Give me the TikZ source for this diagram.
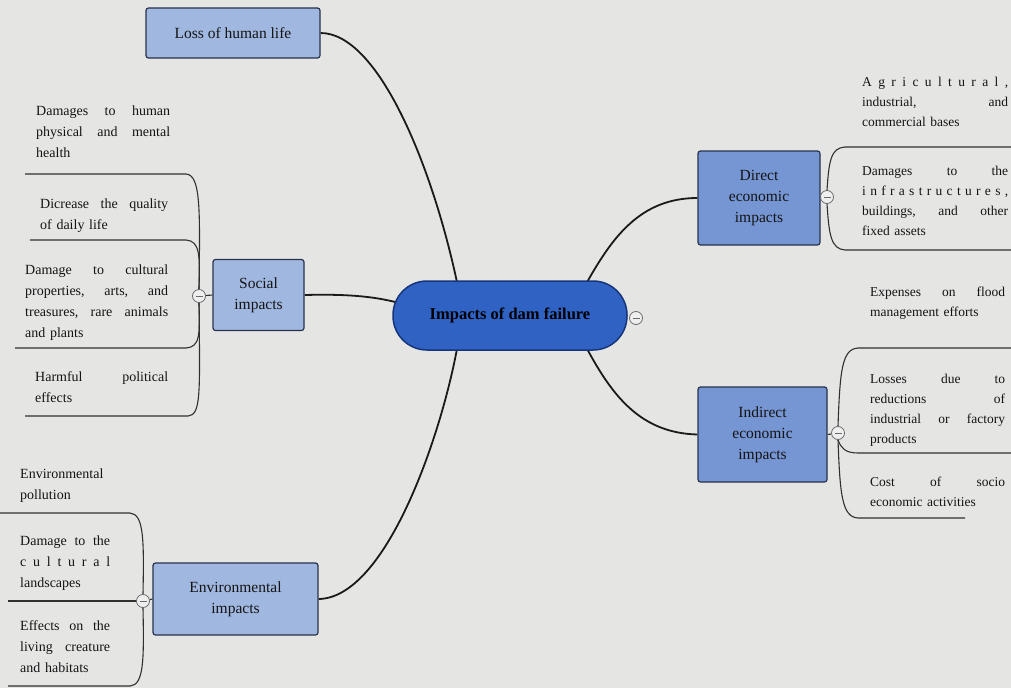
\documentclass[tikz,border=0pt]{standalone}
\usepackage{fontspec}
\setmainfont{Liberation Serif}
\usetikzlibrary{backgrounds}
\definecolor{paper}{HTML}{E5E6E4}
\definecolor{topicfill}{HTML}{A0B7E0}
\definecolor{topicfilldeep}{HTML}{7595D3}
\definecolor{topicline}{HTML}{28324C}
\definecolor{rootfill}{HTML}{2F62C3}
\definecolor{rootline}{HTML}{16357A}
\definecolor{inkc}{HTML}{141414}
\definecolor{branchc}{HTML}{1A1A1A}
\definecolor{subc}{HTML}{303030}
\definecolor{togglefill}{HTML}{EFEFEF}
\definecolor{toggleline}{HTML}{6A6A6A}
% one justified line: the \hfill gaps spread it over the given width
\newcommand{\jl}[2]{\leavevmode\hbox to #1{#2}}
\begin{document}
\begin{tikzpicture}[x=1pt,y=-1pt,
  topic/.style={draw=topicline, line width=1.2pt, fill=topicfill, rounded corners=2.5pt,
    align=center, font=\fontsize{15.5}{21}\selectfont, text=inkc, inner sep=2pt},
  root/.style={draw=rootline, line width=1.5pt, fill=rootfill, rounded corners=34pt,
    align=center, font=\bfseries\fontsize{16.5}{20}\selectfont, text=black},
  leafL/.style={anchor=north west, inner sep=0pt, align=left, text=inkc,
    font=\fontsize{14}{21}\selectfont},
  leafR/.style={anchor=north west, inner sep=0pt, align=left, text=inkc,
    font=\fontsize{13.5}{20}\selectfont},
  branch/.style={draw=branchc, line width=1.8pt},
  sub/.style={draw=subc, line width=1.1pt},
  toggle/.style={circle, draw=toggleline, fill=togglefill, minimum size=13pt, inner sep=0pt,
    line width=0.8pt,
    path picture={\draw[toggleline, line width=1pt]
      ([xshift=-3.5pt]path picture bounding box.center) --
      ([xshift=3.5pt]path picture bounding box.center);}}
]
\useasboundingbox (0,0) rectangle (1011,688);

% central topic and main topics
\node[root, minimum width=234pt, minimum height=69pt] (root) at (510,315.5) {Impacts of dam failure};
\node[toggle] (rT) at (636,318) {};
\node[topic, minimum width=174pt, minimum height=50pt] (loss) at (233,33) {Loss of human life};
\node[topic, minimum width=91pt, minimum height=71pt] (social) at (258.5,295) {Social\\impacts};
\node[topic, minimum width=165pt, minimum height=72pt] (env) at (235.5,599) {Environmental\\impacts};
\node[topic, fill=topicfilldeep, minimum width=122pt, minimum height=94pt] (direct) at (759,198) {Direct\\economic\\impacts};
\node[topic, fill=topicfilldeep, minimum width=129pt, minimum height=95pt] (indirect) at (762.5,434.5) {Indirect\\economic\\impacts};

% collapse buttons of the main topics
\node[toggle] (sT) at (199,296) {};
\node[toggle] (eT) at (143,601) {};
\node[toggle] (dT) at (827,197) {};
\node[toggle] (iT) at (838,433) {};

% subtopics: social
\node[leafL, text width=134pt] (s1) at (36,100.5) {\strut\jl{134pt}{Damages\hfill to\hfill human}\\ \jl{134pt}{physical\hfill and\hfill mental}\\ health};
\node[leafL, text width=128pt] (s2) at (40,193.5) {\strut\jl{128pt}{Dicrease\hfill the\hfill quality}\\ of daily life};
\node[leafL, text width=143pt] (s3) at (25,259.5) {\strut\jl{143pt}{Damage\hfill to\hfill cultural}\\ \jl{143pt}{properties,\hfill arts,\hfill and}\\ \jl{143pt}{treasures,\hfill rare\hfill animals}\\ and plants};
\node[leafL, text width=133pt] (s4) at (35,366.5) {\strut\jl{133pt}{Harmful\hfill political}\\ effects};

% subtopics: environmental
\node[leafL, text width=90pt] (e1) at (20,463.5) {\strut\jl{90pt}{Environmental}\\ pollution};
\node[leafL, text width=90pt] (e2) at (20,530.5) {\strut\jl{90pt}{Damage\hfill to\hfill the}\\ \jl{90pt}{c\hfill u\hfill l\hfill t\hfill u\hfill r\hfill a\hfill l}\\ landscapes};
\node[leafL, text width=90pt] (e3) at (20,615.5) {\strut\jl{90pt}{Effects\hfill on\hfill the}\\ \jl{90pt}{living\hfill creature}\\ and habitats};

% subtopics: direct economic
\node[leafR, text width=146pt] (d1) at (862,72) {\strut\jl{146pt}{A\hfill g\hfill r\hfill i\hfill c\hfill u\hfill l\hfill t\hfill u\hfill r\hfill a\hfill l\hfill ,}\\ \jl{146pt}{industrial,\hfill and}\\ commercial bases};
\node[leafR, text width=146pt] (d2) at (862,161) {\strut\jl{146pt}{Damages\hfill to\hfill the}\\ \jl{146pt}{i\hfill n\hfill f\hfill r\hfill a\hfill s\hfill t\hfill r\hfill u\hfill c\hfill t\hfill u\hfill r\hfill e\hfill s\hfill ,}\\ \jl{146pt}{buildings,\hfill and\hfill other}\\ fixed assets};

% subtopics: indirect economic
\node[leafR, text width=135pt] (i1) at (870,282) {\strut\jl{135pt}{Expenses\hfill on\hfill flood}\\ management efforts};
\node[leafR, text width=135pt] (i2) at (870,369) {\strut\jl{135pt}{Losses\hfill due\hfill to}\\ \jl{135pt}{reductions\hfill of}\\ \jl{135pt}{industrial\hfill or\hfill factory}\\ products};
\node[leafR, text width=135pt] (i3) at (870,472) {\strut\jl{135pt}{Cost\hfill of\hfill socio}\\ economic activities};

% free ends of the underlines
\coordinate (s1u) at (25,174);
\coordinate (s2u) at (30,240);
\coordinate (s3u) at (15,348);
\coordinate (s4u) at (25,416);
\coordinate (e1u) at (0,513);
\coordinate (e2u) at (8,601);
\coordinate (e3u) at (8,686);
\coordinate (d1u) at (1011,147);
\coordinate (d2u) at (1011,250);
\coordinate (i1u) at (1011,348);
\coordinate (i2u) at (1011,453);
\coordinate (i3u) at (965,518);

\begin{pgfonlayer}{background}
\fill[paper] (0,0) rectangle (1011,688);
% branches from the central topic
\draw[branch] (loss.east) .. controls (378,33) and (432,165) .. ([xshift=-53pt,yshift=-2pt]root.north);
\draw[branch] (social.east) .. controls (345,294) and (372,296) .. ([shift={(5pt,13pt)}]root.west);
\draw[branch] (env.east) .. controls (385,598) and (440,440) .. ([xshift=-53pt,yshift=2pt]root.south);
\draw[branch] ([xshift=77pt,yshift=-2pt]root.north) .. controls (612,238) and (640,198) .. (direct.west);
\draw[branch] ([xshift=77pt,yshift=2pt]root.south) .. controls (612,395) and (640,433) .. (indirect.west);
% social subtopic lines
\draw[sub] (sT) -- (social.west);
\draw[sub] (sT.north) .. controls (200,210) and (201,175) .. (186,174) -- (s1u);
\draw[sub] (sT.north) .. controls (200,255) and (200,241) .. (186,240) -- (s2u);
\draw[sub] (sT.south) .. controls (200,335) and (200,347) .. (186,348) -- (s3u);
\draw[sub] (sT.south) .. controls (200,395) and (201,415) .. (188,416) -- (s4u);
% environmental subtopic lines
\draw[sub] (eT) -- (env.west);
\draw[sub] (eT.north) .. controls (144,540) and (144,514) .. (130,513) -- (e1u);
\draw[sub] (eT.west) -- (e2u);
\draw[sub] (eT.south) .. controls (144,660) and (144,685) .. (130,686) -- (e3u);
% direct economic subtopic lines
\draw[sub] (direct.east) -- (dT);
\draw[sub] (dT.north) .. controls (829,160) and (831,148) .. (845,147) -- (d1u);
\draw[sub] (dT.south) .. controls (829,235) and (831,249) .. (845,250) -- (d2u);
% indirect economic subtopic lines
\draw[sub] (indirect.east) -- (iT);
\draw[sub] (iT.north) .. controls (840,370) and (842,349) .. (858,348) -- (i1u);
\draw[sub] (iT.south) .. controls (841,448) and (845,453) .. (858,453) -- (i2u);
\draw[sub] (iT.south) .. controls (840,495) and (842,517) .. (858,518) -- (i3u);
\end{pgfonlayer}
\end{tikzpicture}
\end{document}
